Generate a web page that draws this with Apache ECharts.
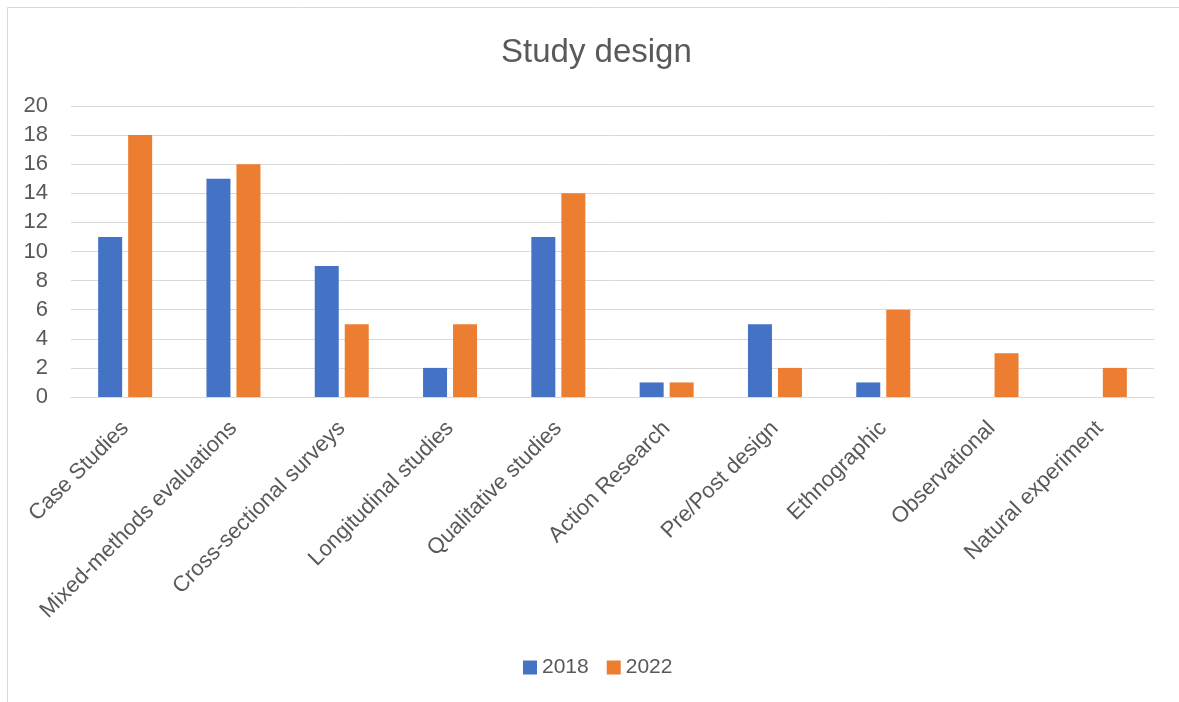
<!DOCTYPE html>
<html><head><meta charset="utf-8">
<script src="https://cdn.jsdelivr.net/npm/echarts@6/dist/echarts.min.js"></script>
<style>html,body{margin:0;padding:0;background:#fff}#c{width:1179px;height:702px}</style>
</head><body><div id="c"></div>
<script>
const categories = ["Case Studies","Mixed-methods evaluations","Cross-sectional surveys","Longitudinal studies","Qualitative studies","Action Research","Pre/Post design","Ethnographic","Observational","Natural experiment"];
const values2018 = [11,15,9,2,11,1,5,1,null,null];
const values2022 = [18,16,5,5,14,1,2,6,3,2];
const yTicks = {min:0,max:20,interval:2};
const font = "'Liberation Sans', Arial, sans-serif";
const chart = echarts.init(document.getElementById('c'));
chart.setOption({
  animation:false,
  textStyle:{fontFamily:font},
  graphic:[{type:'rect',shape:{x:7.5,y:7.5,width:1180,height:700},style:{fill:'none',stroke:'#d9d9d9',lineWidth:1},silent:true}],
  title:{text:'Study design',left:496,top:31,textStyle:{fontFamily:font,fontSize:33,fontWeight:'normal',color:'#595959'}},
  legend:{top:652,left:518,itemWidth:14,itemHeight:14,itemGap:18,icon:'rect',textStyle:{fontFamily:font,fontSize:21,color:'#595959'}},
  grid:{left:71,right:25,top:106,bottom:305,containLabel:false},
  xAxis:{type:'category',data:categories,axisTick:{show:false},axisLine:{lineStyle:{color:'#d9d9d9'}},
    axisLabel:{rotate:45,interval:0,fontSize:22,color:'#595959',margin:28,fontFamily:font}},
  yAxis:{type:'value',min:yTicks.min,max:yTicks.max,interval:yTicks.interval,axisLine:{show:false},axisTick:{show:false},
    splitLine:{lineStyle:{color:'#d9d9d9',width:1}},axisLabel:{fontSize:22,color:'#595959',margin:23,fontFamily:font}},
  series:[
    {name:'2018',type:'bar',data:values2018,barWidth:24,barGap:'25%',itemStyle:{color:'#4472C4'}},
    {name:'2022',type:'bar',data:values2022,barWidth:24,itemStyle:{color:'#ED7D31'}}
  ]
});
</script></body></html>
